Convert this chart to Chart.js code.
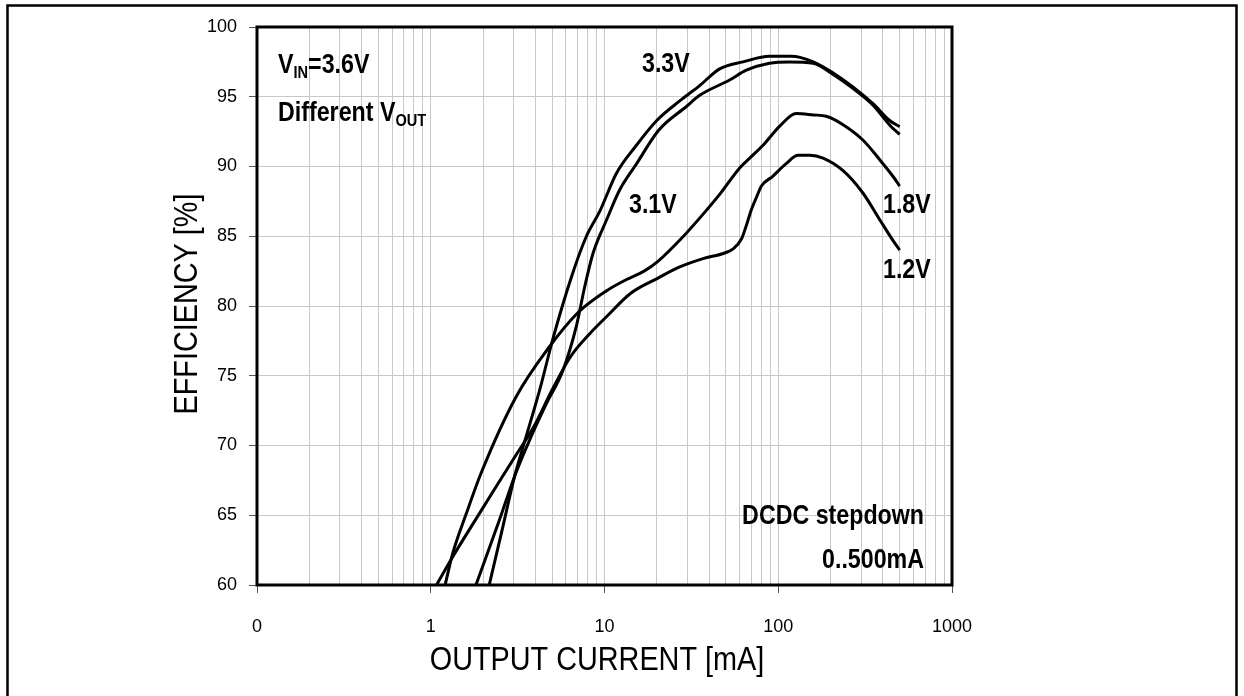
<!DOCTYPE html>
<html>
<head>
<meta charset="utf-8">
<title>DCDC stepdown efficiency</title>
<script src="https://cdn.jsdelivr.net/npm/chart.js@4.4.1/dist/chart.umd.min.js"></script>
<style>
    html, body { margin: 0; padding: 0; background: #fff; }
    #wrap { width: 1244px; height: 696px; }
</style>
</head>
<body>
<div id="wrap"><canvas id="effChart" width="1244" height="696"></canvas></div>
<script>
// Efficiency [%] vs output current [mA]

// VOUT = 3.3V
const current33 = [2.17, 2.57, 3.04, 3.4, 4.24, 5.06, 6.46, 7.87, 9.4, 11.7, 15, 20, 27.1, 35.3, 46, 62.7, 89, 119, 159, 207, 269, 351, 438, 500];
const eff33     = [60, 63.9, 67.8, 69.9, 74.0, 77.7, 82.1, 85.0, 86.8, 89.5, 91.4, 93.3, 94.7, 95.8, 97.0, 97.5, 97.9, 97.9, 97.5, 96.7, 95.7, 94.5, 93.3, 92.85];

// VOUT = 3.1V
const current31 = [1.82, 2.49, 3.04, 3.71, 4.63, 5.77, 6.9, 7.7, 8.6, 10.3, 12.2, 15.3, 20.5, 29.6, 35.3, 52.5, 65.5, 89, 116, 159, 207, 269, 351, 447, 500];
const eff31     = [60, 64.7, 67.8, 70.4, 73.0, 75.4, 78.6, 81.4, 83.8, 86.2, 88.3, 90.2, 92.6, 94.3, 95.1, 96.2, 96.9, 97.4, 97.5, 97.4, 96.6, 95.6, 94.4, 92.85, 92.3];

// VOUT = 1.8V
const current18 = [1.21, 1.34, 1.6, 1.96, 3.1, 4.7, 7.0, 10.3, 13.4, 16.9, 20.3, 27.5, 35.3, 46, 60, 68.5, 81.5, 102, 127, 159, 189, 236, 307, 383, 457, 500];
const eff18     = [60, 62.3, 65.1, 68.1, 73.5, 76.9, 79.5, 81.1, 81.9, 82.5, 83.2, 84.8, 86.3, 88.0, 89.9, 90.6, 91.5, 92.9, 93.8, 93.7, 93.6, 93.0, 91.9, 90.5, 89.3, 88.6];

// VOUT = 1.2V
const current12 = [1.08, 1.32, 1.9, 2.42, 3.09, 3.94, 5.0, 6.4, 8.2, 10.4, 14.1, 20.3, 27.1, 36.9, 49.2, 55, 61.4, 66, 70, 75, 80, 93, 111, 130, 152, 181, 236, 307, 383, 457, 500];
const eff12     = [60, 61.9, 65.1, 67.2, 69.3, 71.4, 74.0, 76.4, 78.0, 79.3, 80.9, 82.0, 82.8, 83.4, 83.8, 84.1, 84.8, 85.9, 86.9, 87.8, 88.6, 89.3, 90.2, 90.8, 90.8, 90.6, 89.7, 88.1, 86.2, 84.7, 84.0];

// axes
const xDecades = [0.1, 1, 10, 100, 1000];
const xDecadeLabels = ['0', '1', '10', '100', '1000'];
const yTicks = [60, 65, 70, 75, 80, 85, 90, 95, 100];

// log grid: 1..9 in every decade
const xGrid = [];
for (let i = 0; i < xDecades.length - 1; i++) {
    for (let m = 1; m <= 9; m++) xGrid.push(xDecades[i] * m);
}
xGrid.push(xDecades[xDecades.length - 1]);

function decadeIndex(v) {
    return xDecades.findIndex(d => Math.abs(v - d) / d < 1e-6);
}

// Narrow font may not be installed, fall back to a smaller regular one
function hasFont(name) {
    const c = document.createElement('canvas').getContext('2d');
    c.font = '20px monospace';
    const ref = c.measureText('1000 mAiW').width;
    c.font = '20px "' + name + '", monospace';
    return c.measureText('1000 mAiW').width !== ref;
}
const tickFont = hasFont('Liberation Sans Narrow')
    ? { family: '"Liberation Sans Narrow", sans-serif', size: 20 }
    : { family: '"Liberation Sans", Arial, sans-serif', size: 18 };

function series(label, xs, ys) {
    return {
        label: label,
        data: xs.map((x, i) => ({ x: x, y: ys[i] })),
        borderColor: '#000',
        borderWidth: 3,
        pointRadius: 0,
        fill: false,
        cubicInterpolationMode: 'monotone'
    };
}

// squeezed text, the sheet uses a condensed face
function drawText(ctx, parts, x, y, align) {
    const squeeze = 0.86;
    let total = 0;
    parts.forEach(p => {
        ctx.font = p.font;
        p.w = ctx.measureText(p.text).width * squeeze;
        total += p.w;
    });
    let cx = align === 'right' ? x - total : (align === 'center' ? x - total / 2 : x);
    parts.forEach(p => {
        ctx.save();
        ctx.font = p.font;
        ctx.textAlign = 'left';
        ctx.textBaseline = 'alphabetic';
        ctx.translate(cx, y + (p.dy || 0));
        ctx.scale(squeeze, 1);
        ctx.fillText(p.text, 0, 0);
        ctx.restore();
        cx += p.w;
    });
}

const BOLD = 'bold 27px "Liberation Sans", Arial, sans-serif';
const SUB = 'bold 17px "Liberation Sans", Arial, sans-serif';
const TITLE = '33.5px "Liberation Sans", Arial, sans-serif';

const sheetPlugin = {
    id: 'sheetText',
    afterDatasetsDraw(chart) {
        const { ctx, chartArea: a } = chart;
        ctx.save();
        ctx.strokeStyle = '#000';
        ctx.lineWidth = 3;
        ctx.strokeRect(a.left, a.top, a.right - a.left, a.bottom - a.top);
        ctx.restore();
    },
    afterDraw(chart) {
        const ctx = chart.ctx;
        ctx.save();
        ctx.fillStyle = '#000';

        // outer frame
        ctx.strokeStyle = '#000';
        ctx.lineWidth = 2.5;
        ctx.beginPath();
        ctx.moveTo(7.5, 700);
        ctx.lineTo(7.5, 5.5);
        ctx.lineTo(1236.5, 5.5);
        ctx.lineTo(1236.5, 700);
        ctx.stroke();

        drawText(ctx, [{ text: 'V', font: BOLD }, { text: 'IN', font: SUB, dy: 5 }, { text: '=3.6V', font: BOLD }], 278, 73, 'left');
        drawText(ctx, [{ text: 'Different V', font: BOLD }, { text: 'OUT', font: SUB, dy: 5 }], 278, 121, 'left');

        drawText(ctx, [{ text: '3.3V', font: BOLD }], 642, 72, 'left');
        drawText(ctx, [{ text: '3.1V', font: BOLD }], 629, 213, 'left');
        drawText(ctx, [{ text: '1.8V', font: BOLD }], 883, 213, 'left');
        drawText(ctx, [{ text: '1.2V', font: BOLD }], 883, 278, 'left');

        drawText(ctx, [{ text: 'DCDC stepdown', font: BOLD }], 924, 524, 'right');
        drawText(ctx, [{ text: '0..500mA', font: BOLD }], 924, 568, 'right');

        // axis titles
        drawText(ctx, [{ text: 'OUTPUT CURRENT [mA]', font: TITLE }], 597, 670, 'center');
        ctx.save();
        ctx.translate(197, 304);
        ctx.rotate(-Math.PI / 2);
        drawText(ctx, [{ text: 'EFFICIENCY [%]', font: TITLE }], 0, 0, 'center');
        ctx.restore();

        ctx.restore();
    }
};

const gridColor = '#c8c8c8';

new Chart(document.getElementById('effChart'), {
    type: 'line',
    data: {
        datasets: [
            series('3.3V', current33, eff33),
            series('3.1V', current31, eff31),
            series('1.8V', current18, eff18),
            series('1.2V', current12, eff12)
        ]
    },
    options: {
        responsive: false,
        animation: false,
        devicePixelRatio: 1,
        layout: { padding: { left: 0, top: 27, right: 292, bottom: 0 } },
        plugins: {
            legend: { display: false },
            tooltip: { enabled: false }
        },
        scales: {
            x: {
                type: 'logarithmic',
                min: 0.1,
                max: 1000,
                afterBuildTicks: s => { s.ticks = xGrid.map(v => ({ value: v })); },
                afterFit: s => { s.height = 111; },
                ticks: {
                    autoSkip: false,
                    maxRotation: 0,
                    padding: 23,
                    color: '#000',
                    font: tickFont,
                    callback: v => {
                        const i = decadeIndex(v);
                        return i >= 0 ? xDecadeLabels[i] : '';
                    }
                },
                grid: {
                    color: gridColor,
                    lineWidth: 1,
                    tickLength: 8,
                    tickColor: c => decadeIndex(c.tick.value) >= 0 ? '#555' : 'rgba(0,0,0,0)'
                },
                border: { display: false }
            },
            y: {
                min: 60,
                max: 100,
                afterBuildTicks: s => { s.ticks = yTicks.map(v => ({ value: v })); },
                afterFit: s => { s.width = 257; },
                ticks: {
                    padding: 12,
                    color: '#000',
                    font: tickFont
                },
                grid: {
                    color: gridColor,
                    lineWidth: 1,
                    tickLength: 8,
                    tickColor: '#555'
                },
                border: { display: false }
            }
        }
    },
    plugins: [sheetPlugin]
});
</script>
</body>
</html>
